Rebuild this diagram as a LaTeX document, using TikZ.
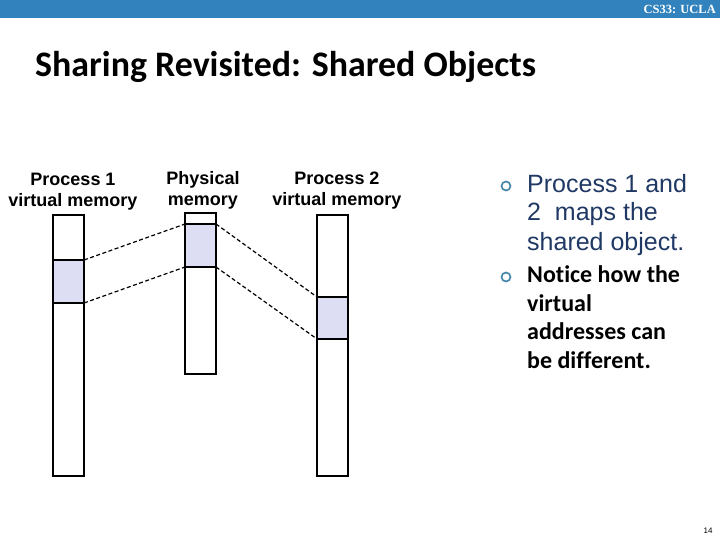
\documentclass[tikz,border=0pt]{standalone}
\usepackage{fontspec}
\setmainfont{Liberation Sans}
\newfontfamily\carlito[Ligatures=NoCommon]{Carlito}
\newfontfamily\serifx{Liberation Serif}
\definecolor{barblue}{RGB}{49,130,189}
\definecolor{shade}{RGB}{221,221,243}
\definecolor{navy}{RGB}{31,56,100}
\definecolor{bulletc}{RGB}{70,135,170}
\tikzset{
  membox/.style={draw=black, line width=1.4pt, fill=white},
  shadebox/.style={draw=black, line width=1.4pt, fill=shade},
  maplink/.style={dash pattern=on 4pt off 2.5pt, line width=1.2pt},
  collabel/.style={font=\bfseries\fontsize{18}{21}\selectfont, align=center, inner sep=0pt, anchor=base},
  bulletmark/.style={circle, draw=bulletc, line width=1.7pt, minimum size=9pt, inner sep=0pt},
  bullettext/.style={anchor=base west, align=left, inner sep=0pt}
}
\begin{document}
\begin{tikzpicture}[x=1pt,y=-1pt]
\useasboundingbox (0,0) rectangle (720,540);
% top bar
\fill[barblue] (0,0) rectangle (720,18);
\node[anchor=base east, text=white, inner sep=0pt, font=\serifx\bfseries\fontsize{12.5}{14}\selectfont] (hdr) at (716,13.5) {CS33: UCLA};
% title
\node[anchor=base west, inner sep=0pt, font=\carlito\bfseries\fontsize{35.9}{40}\selectfont] (title) at (35,77) {Sharing Revisited: Shared Objects};
% column labels (base = last line baseline)
\node[collabel] (l1) at (73,207) {Process 1\\virtual memory};
\node[collabel] (l2) at (203,206) {Physical\\memory};
\node[collabel] (l3) at (337,206) {Process 2\\virtual memory};
% memory columns
\draw[membox] (53,215) rectangle (84,476);
\draw[membox] (185,213) rectangle (216,374);
\draw[membox] (317,215) rectangle (348,476);
% shared regions
\draw[shadebox] (53,260) rectangle (84,303);
\draw[shadebox] (185,224) rectangle (216,267);
\draw[shadebox] (317,297) rectangle (348,339);
\coordinate (a1) at (84,260);
\coordinate (a2) at (84,303);
\coordinate (b1) at (185,224);
\coordinate (b2) at (185,267);
\coordinate (c1) at (216,224);
\coordinate (c2) at (216,267);
\coordinate (d1) at (317,297);
\coordinate (d2) at (317,339);
\draw[maplink] (a1) -- (b1);
\draw[maplink] (a2) -- (b2);
\draw[maplink] (c1) -- (d1);
\draw[maplink] (c2) -- (d2);
% bullets
\node[bulletmark] (m1) at (506,186) {};
\node[bulletmark] (m2) at (506,277) {};
\node[bullettext, text=navy, font=\fontsize{25}{29}\selectfont] (t1) at (527,250) {Process 1 and\\2\ \ maps the\\shared object.};
\node[bullettext, font=\carlito\bfseries\fontsize{24}{28.5}\selectfont] (t2) at (527,368) {Notice how the\\virtual\\addresses can\\be different.};
% page number
\node[inner sep=0pt, font=\fontsize{8}{10}\selectfont] (pg) at (708,531) {14};
\end{tikzpicture}
\end{document}
